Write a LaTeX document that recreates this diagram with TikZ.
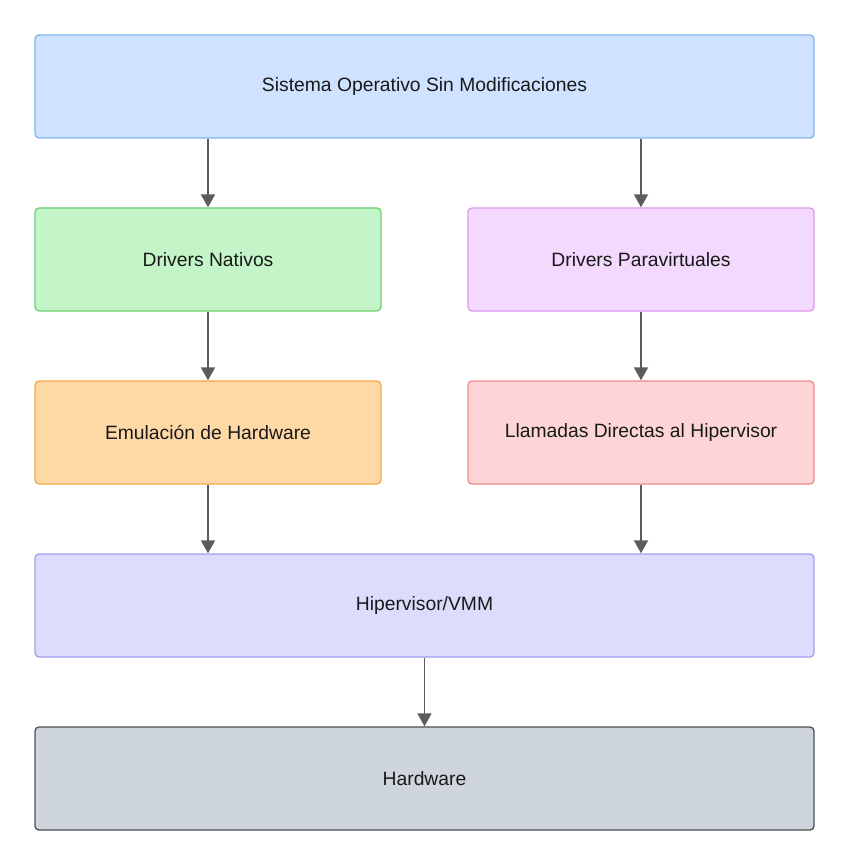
\documentclass[tikz,border=0pt]{standalone}
\usepackage{fontspec}
\setmainfont{Liberation Sans}
\usetikzlibrary{arrows.meta}
\definecolor{bluef}{HTML}{CFE2FF}\definecolor{blued}{HTML}{7FB3EE}
\definecolor{greenf}{HTML}{C3F5C8}\definecolor{greend}{HTML}{6CCF70}
\definecolor{purpf}{HTML}{F2D9FD}\definecolor{purpd}{HTML}{DE98EE}
\definecolor{orangef}{HTML}{FED9A6}\definecolor{oranged}{HTML}{F5A84A}
\definecolor{redf}{HTML}{FDD5D6}\definecolor{redd}{HTML}{F08A8C}
\definecolor{lavf}{HTML}{DCDCFD}\definecolor{lavd}{HTML}{A0A0EE}
\definecolor{grayf}{HTML}{CFD5DD}\definecolor{grayd}{HTML}{4A4F55}
\definecolor{arr}{HTML}{5C5C5C}
\tikzset{
  box/.style={draw, line width=1.3pt, rounded corners=4pt, minimum height=103pt, inner sep=0pt, font=\fontsize{19.3}{22}\selectfont, text=black!90},
  wide/.style={box, minimum width=779pt},
  half/.style={box, minimum width=346pt},
  conn/.style={draw=arr, line width=1.8pt, -{Triangle[length=13pt,width=14pt]}}
}
\begin{document}
\begin{tikzpicture}[x=1pt,y=-1pt]
\useasboundingbox (0,0) rectangle (849,866);
\node[wide, fill=bluef, draw=blued] (os) at (424.5,86.5) {Sistema Operativo Sin Modificaciones};
\node[half, fill=greenf, draw=greend] (dn) at (208,259.5) {Drivers Nativos};
\node[half, fill=purpf, draw=purpd] (dp) at (641,259.5) {Drivers Paravirtuales};
\node[half, fill=orangef, draw=oranged] (em) at (208,432.5) {Emulación de Hardware};
\node[half, fill=redf, draw=redd] (ll) at (641,432.5) {Llamadas Directas al Hipervisor};
\node[wide, fill=lavf, draw=lavd] (hv) at (424.5,605.5) {Hipervisor/VMM};
\node[wide, fill=grayf, draw=grayd] (hw) at (424.5,778.5) {Hardware};
\draw[conn] (os.south -| dn.north) -- (dn.north);
\draw[conn] (os.south -| dp.north) -- (dp.north);
\draw[conn] (dn) -- (em);
\draw[conn] (dp) -- (ll);
\draw[conn] (em.south) -- (em.south |- hv.north);
\draw[conn] (ll.south) -- (ll.south |- hv.north);
\draw[conn] (hv) -- (hw);
\end{tikzpicture}
\end{document}
